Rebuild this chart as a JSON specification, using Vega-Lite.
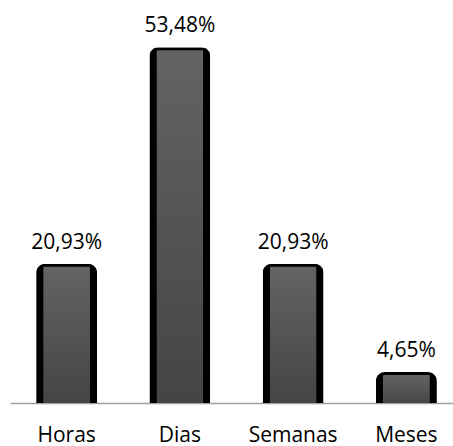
{
  "$schema": "https://vega.github.io/schema/vega-lite/v6.json",
  "autosize": {"type": "none"},
  "width": 453,
  "height": 399,
  "padding": {"left": 10, "top": 4, "right": 0, "bottom": 43},
  "background": "white",
  "config": {"view": {"stroke": null}, "font": "Open Sans"},
  "data": {"values": [
    {"cat": "Horas", "value": 20.93, "label": "20,93%"},
    {"cat": "Dias", "value": 53.48, "label": "53,48%"},
    {"cat": "Semanas", "value": 20.93, "label": "20,93%"},
    {"cat": "Meses", "value": 4.65, "label": "4,65%"}
  ]},
  "encoding": {
    "x": {"field": "cat", "type": "nominal", "sort": null,
      "scale": {"paddingInner": 0.46, "paddingOuter": 0.23},
      "axis": {"title": null, "ticks": false, "domainColor": "#a0a0a0", "domainWidth": 1.5,
        "labelFont": "Open Sans", "labelFontSize": 21, "labelColor": "#000000",
        "labelAngle": 0, "labelBaseline": "alphabetic", "labelPadding": 38,
        "domainCap": "butt"}},
    "y": {"field": "value", "type": "quantitative", "scale": {"domain": [0, 60]}, "axis": null}
  },
  "layer": [
    {"mark": {"type": "bar", "width": 61, "color": "#000000", "cornerRadiusTopLeft": 9, "cornerRadiusTopRight": 9, "y2Offset": 1}},
    {"mark": {"type": "bar", "width": 47, "yOffset": 3, "cornerRadiusTopLeft": 5, "cornerRadiusTopRight": 5,
      "color": {"gradient": "linear", "x1": 0, "y1": 0, "x2": 0, "y2": 1,
        "stops": [{"offset": 0, "color": "#636363"}, {"offset": 1, "color": "#444444"}]}}},
    {"mark": {"type": "text", "baseline": "alphabetic", "dy": -15, "font": "Open Sans", "fontSize": 21, "color": "#000000"},
      "encoding": {"text": {"field": "label"}}}
  ]
}
